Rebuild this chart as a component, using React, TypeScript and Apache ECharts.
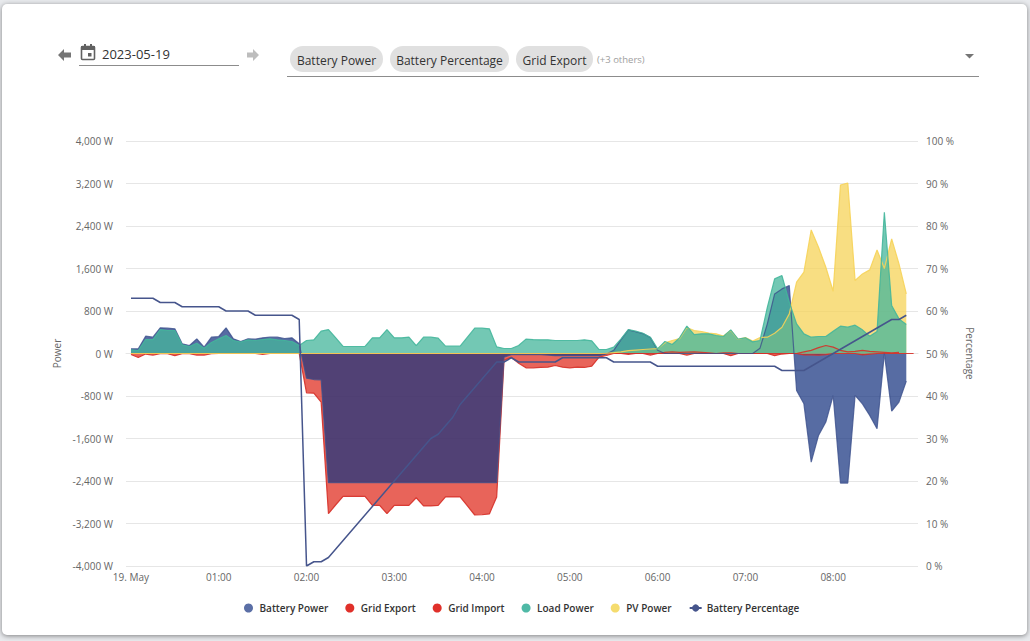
import React, { useEffect, useRef } from "react";
import * as echarts from "echarts";

const FONT = '"Open Sans", sans-serif';
const START = Date.UTC(2023, 4, 19, 0, 0, 0);
const STEP_MINUTES = 5;

const batteryPower = [
  88, 88, 326, 307, 483, 477, 464, 182, 150, 276, 120, 307, 320, 483, 276, 226, 276, 270, 295, 307, 307, 282, 295, 182,
  -464, -490, -495,
  -2433, -2433, -2433, -2433, -2433, -2433, -2433, -2433, -2433, -2433, -2433, -2433, -2433, -2433, -2433, -2433, -2433, -2433, -2433, -2433, -2433, -2433, -2433, -2433,
  -70, -20, -20, -20, -20, -20, -30, -40, -40, -40, -40, -40, -40, -40, -10,
  60, 260, 445, 410, 375, 300, 60,
  0, 0, 0, 0, 0, 0, 0, 0, 0, 0, 0, 0, 0,
  100, 558, 1122, 1216, 1279, -696, -947, -2044, -1542, -1291, -790, -2439, -2439, -790, -947, -1166, -1417, 0, -1085, -915, -520,
];
const gridExport = [
  0, 0, 0, 0, 0, 0, 0, 0, 0, 0, 0, 0, 0, 0, 0, 0, 0, 0, 0, 0, 0, 0, 0, 0,
  0, 0, 0, 0, 0, 0, 0, 0, 0, 0, 0, 0, 0, 0, 0, 0, 0, 0, 0, 0, 0, 0, 0, 0, 0, 0, 0,
  0, 0, 0, 0, 0, 0, 0, 0, 0, 0, 0, 0, 0, 0, 0, 0, 0, 0, 0, 0, 0, 0,
  20, 30, 20, 25, 30, 20, 10, 0, 10, 10, 0, 0, 0, 0, 0, 0, 0, 0, 0, 30, 60, 110, 150, 120, 60, 30, 40, 60, 40, 30, 20, 10, 20,
];
const gridImport = [
  -20, -75, -10, -30, -5, -5, -40, -5, -5, -30, -30, -5, 0, 0, 0, 0, 0, 0, -15, 0, 0, 0, 0, 0,
  -740, -746, -915, -3016, -2847, -2690, -2690, -2690, -2690, -2860, -2860, -3016, -2860, -2860, -2860, -2715, -2870, -2870, -2860, -2700, -2700, -2700, -2870, -3040, -3035, -3020, -2700,
  -130, -69, -182, -270, -270, -263, -257, -226, -257, -270, -257, -263, -238, -69, -38, 0, 0, -15, 0, 0, -30, 0,
  0, 0, 0, -30, 0, 0, 0, 0, 0, -40, 0, 0, 0, 0, 0, -40, -10, 0, 0, -25, -25, -30, -20, 0, 0, 0, 0, -25, -10, 0, 0, 0, 0, 0, 0,
];
const loadPower = [
  70, 56, 263, 263, 451, 433, 433, 163, 132, 194, 100, 207, 276, 339, 245, 213, 257, 245, 263, 276, 257, 245, 226, 150,
  245, 257, 420, 451, 295, 132, 132, 132, 132, 295, 295, 451, 295, 295, 307,
  150, 307, 307, 288, 138, 138, 138, 307, 476, 476, 464, 125,
  94, 94, 150, 270, 263, 257, 257, 245, 245, 245, 245, 257, 238, 75, 75, 119, 276, 451, 420, 382, 307, 88, 226, 169, 295, 514, 357, 370, 370, 339, 320, 445, 270, 295, 219, 245,
  870, 1404, 1467, 965, 558, 370, 307, 320, 320, 420, 514, 495, 533, 445, 326, 414, 2658, 903, 652, 545,
];
const pvPower = [
  0, 0, 0, 0, 0, 0, 0, 0, 0, 0, 0, 0, 0, 0, 0, 0, 0, 0, 0, 0, 0, 0, 0, 0,
  0, 0, 0, 0, 0, 0, 0, 0, 0, 0, 0, 0, 0, 0, 0, 0, 0, 0, 0, 0, 0, 0, 0, 0, 0, 0, 0,
  0, 0, 0, 0, 0, 0, 0, 0, 0, 0, 0, 0, 0,
  0, 5, 15, 30, 55, 65, 75, 85, 90, 200, 245, 280, 490, 433, 414, 385, 370, 330, 435, 265, 300, 235, 300,
  307, 382, 495, 746, 1342, 1530, 2326, 2000, 1624, 1172, 3172, 3210, 1373, 1498, 1574, 1950, 1600, 2157, 1687, 1122,
];
const batteryPercentage = [
  63, 63, 63, 63, 62, 62, 62, 61, 61, 61, 61, 61, 61, 60, 60, 60, 60, 59, 59, 59, 59, 59, 59, 58,
  0, 1, 1, 2, 4, 6, 8, 10, 12, 14, 16, 18, 20, 22, 24, 26, 28, 30, 31, 33, 35, 38, 40, 42, 44, 46, 48,
  48, 49, 48, 48, 48, 48, 48, 48, 49, 49, 49, 49, 49, 49, 49, 48, 48, 48, 48, 48, 48,
  47, 47, 47, 47, 47, 47, 47, 47, 47, 47, 47, 47, 47, 47, 47, 47, 47,
  46, 46, 46, 46, 47, 48, 49, 50, 51, 52, 53, 54, 55, 56, 57, 58, 58, 59,
];

const legendNames = ["Battery Power", "Grid Export", "Grid Import", "Load Power", "PV Power", "Battery Percentage"];
const selectedChips = ["Battery Power", "Battery Percentage", "Grid Export"];
const dateText = "2023-05-19";
const othersText = "(+3 others)";

const pair = (values: number[]) => values.map((v, i) => [START + i * STEP_MINUTES * 60000, v]);

function area(name: string, values: number[], legend: string, line: string, fill: string) {
  return {
    name,
    type: "line",
    data: pair(values),
    showSymbol: false,
    symbol: "circle",
    smooth: false,
    itemStyle: { color: legend },
    lineStyle: { color: line, width: 1.2 },
    areaStyle: { color: fill, opacity: 1 },
    emphasis: { disabled: true },
    yAxisIndex: 0,
  };
}

function chip(x: number, w: number, label: string) {
  return [
    { type: "rect", shape: { x, y: 46, width: w, height: 26, r: 13 }, style: { fill: "#e0e0e0" } },
    {
      type: "text",
      x: x + w / 2,
      y: 60,
      style: { text: label, fill: "#333", font: `12px ${FONT}`, textAlign: "center", textVerticalAlign: "middle" },
    },
  ];
}

export default function App() {
  const ref = useRef<HTMLDivElement>(null);
  useEffect(() => {
    if (!ref.current) return;
    const chart = echarts.init(ref.current, undefined, { renderer: "svg" });
    chart.setOption({
      animation: false,
      backgroundColor: "transparent",
      textStyle: { fontFamily: FONT },
      grid: { left: 126, right: 112, top: 141, bottom: 75, containLabel: false },
      legend: {
        left: 239,
        top: 598,
        itemWidth: 12,
        itemHeight: 9,
        itemGap: 17,
        textStyle: { fontFamily: FONT, fontSize: 10, fontWeight: 600, color: "#333" },
        data: legendNames.map((name) =>
          name === "Battery Percentage" ? { name } : { name, icon: "circle" }
        ),
      },
      xAxis: {
        type: "time",
        min: START - 3.4 * 60000,
        max: START + 538 * 60000,
        minInterval: 3600000,
        maxInterval: 3600000,
        axisLine: { show: true, lineStyle: { color: "#e6e6e6" } },
        axisTick: { show: false },
        splitLine: { show: false },
        axisLabel: {
          color: "#666",
          fontSize: 10,
          fontFamily: FONT,
          margin: 6,
          showMinLabel: false,
          showMaxLabel: false,
          formatter: (value: number) => {
            const d = new Date(value);
            if (d.getUTCMinutes() !== 0 || d.getUTCSeconds() !== 0 || d.getUTCDate() !== 19) return "";
            const h = d.getUTCHours();
            return h === 0 ? "19. May" : `${String(h).padStart(2, "0")}:00`;
          },
        },
      },
      yAxis: [
        {
          type: "value",
          min: -4000,
          max: 4000,
          interval: 800,
          name: "Power",
          nameLocation: "middle",
          nameRotate: 90,
          nameGap: 54,
          nameTextStyle: { color: "#666", fontSize: 10, fontFamily: FONT },
          axisLine: { show: false },
          axisTick: { show: false },
          splitLine: { show: true, lineStyle: { color: "#e6e6e6", width: 1 } },
          axisLabel: { color: "#666", fontSize: 10, fontFamily: FONT, margin: 13, formatter: "{value} W" },
        },
        {
          type: "value",
          min: 0,
          max: 100,
          interval: 10,
          name: "Percentage",
          nameLocation: "middle",
          nameRotate: -90,
          nameGap: 42,
          nameTextStyle: { color: "#666", fontSize: 10, fontFamily: FONT },
          axisLine: { show: false },
          axisTick: { show: false },
          splitLine: { show: false },
          axisLabel: { color: "#666", fontSize: 10, fontFamily: FONT, margin: 8, formatter: "{value} %" },
        },
      ],
      series: [
        area("Grid Export", gridExport, "#e0302a", "rgba(214,48,40,0.9)", "rgba(224,48,35,0.75)"),
        area("Grid Import", gridImport, "#e0302a", "rgba(214,48,40,0.9)", "rgba(224,48,35,0.75)"),
        area("Battery Power", batteryPower, "#5b6fa6", "rgba(60,80,140,0.8)", "rgba(22,51,128,0.72)"),
        area("PV Power", pvPower, "#f5dc6e", "rgba(246,211,88,0.9)", "rgba(246,211,88,0.75)"),
        area("Load Power", loadPower, "#4fb9a6", "rgba(68,182,155,0.9)", "rgba(68,182,155,0.75)"),
        {
          name: "Battery Percentage",
          type: "line",
          yAxisIndex: 1,
          data: pair(batteryPercentage),
          showSymbol: false,
          symbol: "circle",
          symbolSize: 5,
          itemStyle: { color: "#46558c" },
          lineStyle: { color: "#46558c", width: 1.5 },
          emphasis: { disabled: true },
        },
      ],
      graphic: [
        // left arrow
        { type: "polygon", shape: { points: [[58, 55], [64, 49], [64, 52.5], [71, 52.5], [71, 57.5], [64, 57.5], [64, 61]] }, style: { fill: "#757575" } },
        // right arrow
        { type: "polygon", shape: { points: [[259, 55], [253, 49], [253, 52.5], [247, 52.5], [247, 57.5], [253, 57.5], [253, 61]] }, style: { fill: "#bdbdbd" } },
        // calendar
        { type: "rect", shape: { x: 81.5, y: 46.5, width: 13, height: 13, r: 1 }, style: { fill: "none", stroke: "#616161", lineWidth: 1.6 } },
        { type: "rect", shape: { x: 81, y: 46, width: 14, height: 4 }, style: { fill: "#616161" } },
        { type: "rect", shape: { x: 84, y: 44, width: 2, height: 3 }, style: { fill: "#616161" } },
        { type: "rect", shape: { x: 90, y: 44, width: 2, height: 3 }, style: { fill: "#616161" } },
        { type: "rect", shape: { x: 88, y: 53, width: 3.5, height: 3.5 }, style: { fill: "#616161" } },
        { type: "text", x: 102, y: 53.5, style: { text: dateText, fill: "#333", font: `13px ${FONT}`, textVerticalAlign: "middle" } },
        { type: "line", shape: { x1: 79, y1: 65.5, x2: 239, y2: 65.5 }, style: { stroke: "#8c8c8c", lineWidth: 1 } },
        ...chip(290, 93, selectedChips[0]),
        ...chip(390, 119, selectedChips[1]),
        ...chip(516, 77, selectedChips[2]),
        { type: "text", x: 597, y: 59.5, style: { text: othersText, fill: "#9e9e9e", font: `9.5px ${FONT}`, textVerticalAlign: "middle" } },
        { type: "polygon", shape: { points: [[965, 54], [974, 54], [969.5, 58.5]] }, style: { fill: "#757575" } },
        { type: "line", shape: { x1: 287, y1: 76.5, x2: 979, y2: 76.5 }, style: { stroke: "#8c8c8c", lineWidth: 1 } },
      ],
    });
    return () => chart.dispose();
  }, []);

  return (
    <div style={{ position: "fixed", left: 0, top: 0, width: 1030, height: 641, background: "#e8eaed", overflow: "hidden" }}>
      <div
        style={{
          position: "absolute",
          left: 2,
          top: 4,
          width: 1025,
          height: 631,
          background: "#fff",
          borderRadius: 5,
          boxShadow: "0 1px 5px rgba(0,0,0,0.45)",
        }}
      />
      <div ref={ref} style={{ position: "absolute", left: 0, top: 0, width: 1030, height: 641 }} />
    </div>
  );
}
